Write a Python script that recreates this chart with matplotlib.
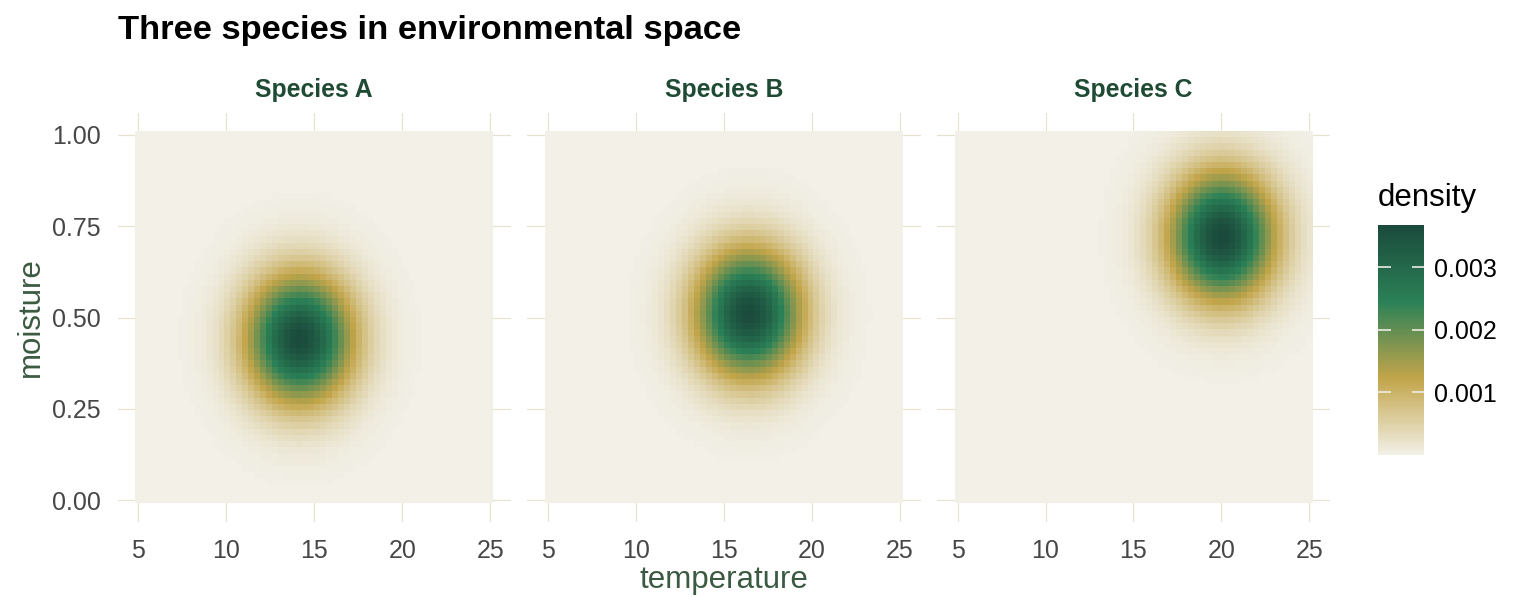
import numpy as np
import matplotlib
matplotlib.use("Agg")
import matplotlib.pyplot as plt
from matplotlib.colors import LinearSegmentedColormap

plt.rcParams['font.family'] = ['Liberation Sans', 'DejaVu Sans']

# ---- data ----
species = ["Species A", "Species B", "Species C"]
temp_center = [14.2, 16.4, 20.0]
moist_center = [0.44, 0.51, 0.72]
temp_sd = [2.08, 2.08, 2.08]
moist_sd = [0.121, 0.121, 0.121]
n_temp = 60
n_moist = 60
temp_range = [5, 25]
moist_range = [0, 1]
x_ticks = [5, 10, 15, 20, 25]
y_ticks = [0.00, 0.25, 0.50, 0.75, 1.00]
y_tick_labels = ["0.00", "0.25", "0.50", "0.75", "1.00"]
cbar_ticks = [0.001, 0.002, 0.003]
cbar_labels = ["0.001", "0.002", "0.003"]
palette = ["#f2f0e7", "#c2a54a", "#2b8157", "#1b4a3c"]

temperature = np.linspace(temp_range[0], temp_range[1], n_temp)
moisture = np.linspace(moist_range[0], moist_range[1], n_moist)
TT, MM = np.meshgrid(temperature, moisture)

grids = []
for i in range(len(species)):
    g = np.exp(-0.5 * ((TT - temp_center[i]) / temp_sd[i]) ** 2
               - 0.5 * ((MM - moist_center[i]) / moist_sd[i]) ** 2)
    g = g / g.sum()
    grids.append(g)
vmin = min(g.min() for g in grids)
vmax = max(g.max() for g in grids)

cmap = LinearSegmentedColormap.from_list("env", palette)

# ---- layout ----
W, H = 1536, 614
fig = plt.figure(figsize=(W / 100, H / 100), dpi=100)
fig.patch.set_facecolor("white")

def frac(l, t, r, b):
    return [l / W, 1 - b / H, (r - l) / W, (b - t) / H]

panels = [(117.5, 511.0), (527.0, 920.5), (936.7, 1330.2)]
top, bottom = 113, 522

dx = (temperature[1] - temperature[0])
dy = (moisture[1] - moisture[0])
x0, x1 = temp_range[0] - dx / 2, temp_range[1] + dx / 2
y0, y1 = moist_range[0] - dy / 2, moist_range[1] + dy / 2
xe = 0.05 * (x1 - x0)
ye = 0.05 * (y1 - y0)

grid_col = "#e6e2cf"
tick_col = "#474747"
title_col = "#3b5a41"
strip_col = "#1f4a33"

im = None
for i, (l, r) in enumerate(panels):
    ax = fig.add_axes(frac(l, top, r, bottom))
    ax.set_facecolor("white")
    ax.set_axisbelow(True)
    im = ax.imshow(grids[i], origin="lower", extent=[x0, x1, y0, y1],
                   cmap=cmap, vmin=vmin, vmax=vmax, aspect="auto",
                   interpolation="nearest", zorder=2)
    ax.set_xlim(x0 - xe, x1 + xe)
    ax.set_ylim(y0 - ye, y1 + ye)
    ax.set_xticks(x_ticks)
    ax.set_xticklabels([str(v) for v in x_ticks])
    ax.set_yticks(y_ticks)
    if i == 0:
        ax.set_yticklabels(y_tick_labels)
    else:
        ax.set_yticklabels([])
    ax.grid(True, color=grid_col, linewidth=0.85, zorder=0)
    ax.tick_params(axis="both", length=0, labelsize=18, labelcolor=tick_col)
    ax.tick_params(axis="x", pad=12)
    ax.tick_params(axis="y", pad=12)
    for s in ax.spines.values():
        s.set_visible(False)
    fig.text((l + r) / 2 / W, 1 - 90 / H, species[i], ha="center", va="center",
             fontsize=17.8, fontweight="bold", color=strip_col)

# titles
fig.text(118 / W, 1 - 30 / H, "Three species in environmental space",
         ha="left", va="center", fontsize=24.8, fontweight="bold", color="black")
fig.text((117.5 + 1330.2) / 2 / W, 1 - 580 / H, "temperature",
         ha="center", va="center", fontsize=22.5, color=title_col)
fig.text(31 / W, 1 - 317.5 / H, "moisture", ha="center", va="center",
         rotation=90, fontsize=22.5, color=title_col)

# colorbar
cax = fig.add_axes(frac(1378, 225, 1424, 455))
cb = fig.colorbar(im, cax=cax, ticks=cbar_ticks)
cb.outline.set_visible(False)
cb.ax.set_yticklabels(cbar_labels)
cax.tick_params(axis="y", direction="in", length=9, width=1.2, color="#ecece4",
                left=True, right=True, labelleft=False, labelright=True,
                labelsize=18, labelcolor="black", pad=7)
fig.text(1378 / W, 1 - 198 / H, "density", ha="left", va="center",
         fontsize=22.5, color="black")

fig.savefig("out.png", dpi=100, facecolor="white")
